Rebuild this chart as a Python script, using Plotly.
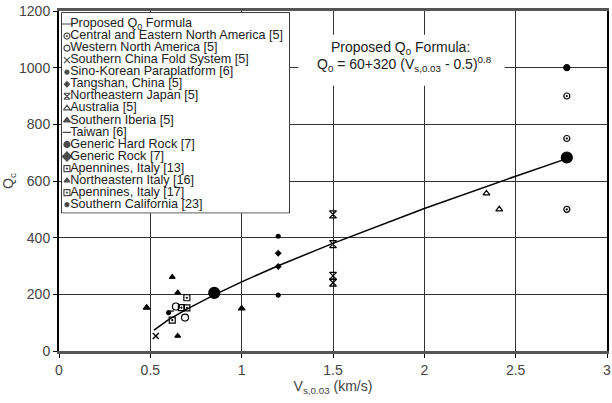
import plotly.graph_objects as go

# ---------------- data ----------------
formula_x = [0.52, 0.6, 0.7, 0.85, 1.0, 1.2, 1.5, 2.0, 2.5, 2.78]
formula_y = [74, 111, 148, 198, 244, 301, 380, 503, 617, 679]

cena_x = [2.78, 2.78, 2.78]
cena_y = [900, 750, 500]
wna_x = [0.64, 0.69]
wna_y = [157, 118]
scfs_x = [0.53]
scfs_y = [53]
sino_x = [1.2, 1.2]
sino_y = [405, 197]
tang_x = [1.2, 1.2]
tang_y = [345, 298]
nej_x = [1.5, 1.5, 1.5, 1.5]
nej_y = [482, 377, 265, 241]
aus_x = [2.34, 2.41]
aus_y = [556, 500]
siber_x = [0.48, 1.0]
siber_y = [153, 150]
taiwan_x = [0.61]
taiwan_y = [141]
ghr_x = [2.78]
ghr_y = [1000]
gr_x = [0.85, 2.78]
gr_y = [205, 683]
ap13_x = [0.70, 0.62]
ap13_y = [188, 109]
neit_x = [0.62, 0.65, 0.65]
neit_y = [261, 206, 53]
ap17_x = [0.67, 0.70]
ap17_y = [153, 152]
socal_x = [0.60]
socal_y = [135]

legend_labels = [
    "Proposed Q<sub>0</sub> Formula",
    "Central and Eastern North America [5]",
    "Western North America [5]",
    "Southern China Fold System [5]",
    "Sino-Korean Paraplatform [6]",
    "Tangshan, China [5]",
    "Northeastern Japan [5]",
    "Australia [5]",
    "Southern Iberia [5]",
    "Taiwan [6]",
    "Generic Hard Rock [7]",
    "Generic Rock [7]",
    "Apennines, Italy [13]",
    "Northeastern Italy [16]",
    "Apennines, Italy [17]",
    "Southern California [23]",
]
legend_symbols = ["line-ew-open", "circle-open-dot", "circle-open", "x-thin-open",
                  "circle", "diamond", "hourglass-open", "triangle-up-open",
                  "triangle-up", "line-ew-open", "circle", "diamond",
                  "square-open-dot", "triangle-up", "square-open-dot", "circle"]
legend_sizes = [9, 6, 6, 6, 4, 4, 6, 6, 6, 6, 6, 7, 6, 5, 6, 4]

x_ticks = [0, 0.5, 1, 1.5, 2, 2.5, 3]
x_ticklabels = ["0", "0.5", "1", "1.5", "2", "2.5", "3"]
y_ticks = [0, 200, 400, 600, 800, 1000, 1200]
y_ticklabels = ["0", "200", "400", "600", "800", "1000", "1200"]

formula_title = "Proposed Q<sub>0</sub> Formula:"
formula_text = "Q<sub>0</sub> = 60+320 (V<sub>s,0.03</sub> - 0.5)<sup>0.8</sup>"

# ---------------- figure ----------------
fig = go.Figure()
K = "black"
FONT = "Liberation Sans, Arial"

def pts(x, y, sym, size, lw=1.2):
    fig.add_trace(go.Scatter(x=x, y=y, mode="markers", showlegend=False,
                             marker=dict(symbol=sym, size=size, color=K,
                                         line=dict(color=K, width=lw))))

fig.add_trace(go.Scatter(x=formula_x, y=formula_y, mode="lines", showlegend=False,
                         line=dict(color=K, width=1.5)))
pts(cena_x, cena_y, "circle-open-dot", 6)
pts(wna_x, wna_y, "circle-open", 7)
pts(scfs_x, scfs_y, "x-thin-open", 6, 1.5)
pts(sino_x, sino_y, "circle", 4)
pts(tang_x, tang_y, "diamond", 4)
pts(nej_x, nej_y, "hourglass-open", 7)
pts(aus_x, aus_y, "triangle-up-open", 6)
pts(siber_x, siber_y, "triangle-up", 6)
pts(taiwan_x, taiwan_y, "line-ew-open", 5)
pts(ghr_x, ghr_y, "circle", 6)
pts(gr_x, gr_y, "circle", 11)
pts(ap13_x, ap13_y, "square-open-dot", 6)
pts(neit_x, neit_y, "triangle-up", 5)
pts(ap17_x, ap17_y, "square-open-dot", 6)
pts(socal_x, socal_y, "circle", 4)

# custom compact legend in its own (hidden) axes
n = len(legend_labels)
idx = list(range(n))
fig.add_trace(go.Scatter(x=[0.022] * n, y=idx, mode="markers", showlegend=False,
                         xaxis="x2", yaxis="y2", hoverinfo="skip",
                         marker=dict(symbol=legend_symbols, size=legend_sizes, color=K,
                                     line=dict(color=K, width=1.2))))
fig.add_trace(go.Scatter(x=[0.036] * n, y=idx, mode="text", text=legend_labels,
                         textposition="middle right", showlegend=False,
                         xaxis="x2", yaxis="y2", hoverinfo="skip",
                         textfont=dict(family=FONT, size=12.6, color="#222")))

fig.add_shape(type="rect", xref="x2 domain", yref="y2 domain", x0=0, x1=1, y0=0, y1=1,
              fillcolor="white", line=dict(color=K, width=1.5), layer="below")

# white patch behind the formula text (interrupts the grid like the original)
fig.add_shape(type="rect", xref="x", yref="y", x0=1.31, x1=2.44, y0=936, y1=1116,
              fillcolor="white", line=dict(width=0), layer="above")

fig.add_annotation(x=1.87, y=1068, xref="x", yref="y", text=formula_title,
                   showarrow=False,
                   font=dict(family=FONT, size=14, color="#222"),
                   xanchor="center", yanchor="middle")
fig.add_annotation(x=1.89, y=1014, xref="x", yref="y", text=formula_text,
                   showarrow=False,
                   font=dict(family=FONT, size=14, color="#222"),
                   xanchor="center", yanchor="middle")

axis_font = dict(family=FONT, size=14, color="#444")
fig.update_layout(
    width=612, height=403,
    margin=dict(l=59, r=1, t=11, b=52),
    paper_bgcolor="white", plot_bgcolor="white",
    showlegend=False,
    xaxis=dict(range=[0, 3], tickvals=x_ticks, ticktext=x_ticklabels,
               showgrid=True, gridcolor="#333", gridwidth=1,
               showline=True, linecolor="#555", linewidth=3, mirror=True,
               ticks="outside", ticklen=4, tickcolor=K, zeroline=False,
               tickfont=axis_font, ticklabeloverflow="allow",
               title=dict(text="V<sub>s,0.03</sub> (km/s)", font=axis_font, standoff=5)),
    yaxis=dict(range=[0, 1200], tickvals=y_ticks, ticktext=y_ticklabels,
               showgrid=True, gridcolor="#333", gridwidth=1,
               showline=True, linecolor=K, linewidth=2, mirror=True,
               ticks="outside", ticklen=4, tickcolor=K, zeroline=False,
               tickfont=axis_font,
               title=dict(text="Q<sub>c</sub>", font=axis_font, standoff=4)),
    xaxis2=dict(domain=[0.0054, 0.42], range=[0, 1], visible=False, anchor="y2",
                fixedrange=True),
    yaxis2=dict(domain=[0.407, 0.994], range=[15.66, -0.91], visible=False, anchor="x2",
                fixedrange=True),
)

fig.write_html("out.html", config={"displayModeBar": False},
               post_script="document.body.style.margin='0';document.body.style.overflow='hidden';")
